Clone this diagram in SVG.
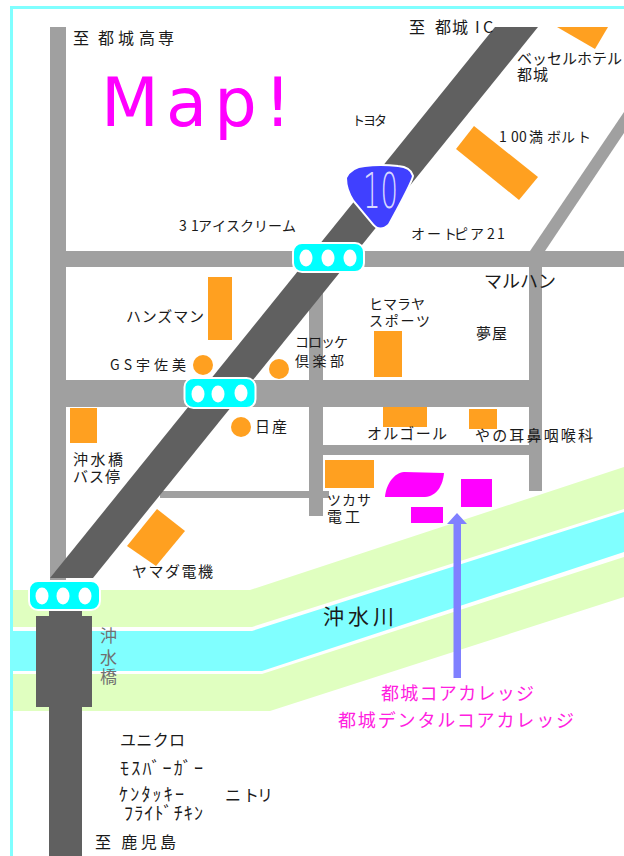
<svg xmlns="http://www.w3.org/2000/svg" width="624" height="856" viewBox="0 0 624 856">
<style>
text{font-family:"Noto Sans CJK JP","DejaVu Sans",sans-serif;font-size:14px;fill:#1a1a1a}
.road{fill:#a0a0a0}
.main{fill:#606060}
.o{fill:#ffa020}
.m{fill:#ff00ff}
.g{fill:#e0ffc0}
.sig{fill:#00ffff;stroke:#fff;stroke-width:2}
.lamp{fill:#fff}
.pink{fill:#ff20e0;font-size:18px}
.hw{font-size:18px}
</style>
<rect width="624" height="856" fill="#fff"/>
<path d="M11.5 856V7.5H624" fill="none" stroke="#80ffff" stroke-width="3"/>
<g id="river">
<path class="g" d="M13 590H250L624 467V509L252 627H13Z"/>
<path fill="#80ffff" d="M13 631H252L624 512V552L262 671H13Z"/>
<path class="g" d="M13 674H262L624 557V597L270 711H13Z"/>
</g>
<g id="roads">
<rect class="road" x="50" y="27" width="16" height="560"/>
<rect class="road" x="66" y="251" width="558" height="16"/>
<rect class="road" x="66" y="380" width="476" height="27"/>
<rect class="road" x="309" y="267" width="14" height="249"/>
<rect class="road" x="529" y="251" width="13" height="240"/>
<rect class="road" x="323" y="445" width="206" height="10"/>
<rect class="road" x="160" y="491" width="169" height="7"/>
<path class="road" d="M624 112V133L545 251H530Z"/>
</g>
<g id="highway">
<path class="main" d="M495 27H538L93 578H50Z"/>
<rect class="main" x="49" y="610" width="33" height="246"/>
<rect class="main" x="36" y="616" width="56" height="91"/>
</g>
<g id="buildings">
<path class="o" d="M557 27H608L595 49Z"/>
<path class="o" d="M474 126L538 177L519 200L456 149Z"/>
<rect class="o" x="208" y="277" width="24" height="63"/>
<circle class="o" cx="203" cy="365" r="10"/>
<circle class="o" cx="279" cy="369" r="10"/>
<circle class="o" cx="241" cy="427" r="10"/>
<rect class="o" x="70" y="408" width="27" height="35"/>
<path class="o" d="M157 509L185 531L156 566L127 546Z"/>
<rect class="o" x="374" y="331" width="28" height="46"/>
<rect class="o" x="383" y="407" width="44" height="20"/>
<rect class="o" x="469" y="409" width="28" height="20"/>
<rect class="o" x="325" y="460" width="49" height="28"/>
</g>
<g id="college">
<path class="m" d="M385 497C386 484 394 473 404 472L444 473C443 485 437 496 425 497Z"/>
<rect class="m" x="411" y="507" width="32" height="16"/>
<rect class="m" x="461" y="479" width="31" height="28"/>
</g>
<g id="signal-1">
<rect class="sig" x="293" y="243" width="71" height="29" rx="9"/>
<ellipse class="lamp" cx="306" cy="258" rx="6.500" ry="8.500"/><ellipse class="lamp" cx="328" cy="258" rx="6.500" ry="8.500"/><ellipse class="lamp" cx="350" cy="258" rx="6.500" ry="8.500"/>
</g>
<g id="signal-2">
<rect class="sig" x="184.500" y="378" width="71" height="30" rx="9"/>
<ellipse class="lamp" cx="198" cy="394" rx="6.500" ry="8.500"/><ellipse class="lamp" cx="218" cy="394" rx="6.500" ry="8.500"/><ellipse class="lamp" cx="241" cy="393" rx="6.500" ry="8.500"/>
</g>
<g id="signal-3">
<rect class="sig" x="29" y="581" width="71" height="29" rx="9"/>
<ellipse class="lamp" cx="42" cy="596" rx="6.500" ry="8.500"/><ellipse class="lamp" cx="63" cy="596" rx="6.500" ry="8.500"/><ellipse class="lamp" cx="85" cy="596" rx="6.500" ry="8.500"/>
</g>
<g id="route-10">
<path d="M347 178Q352 168 365 167Q380 165 398 167Q410 168 412 176Q411 182 388 224Q380 231 374 224L354 200Q347 189 347 178Z" fill="#4040ff" stroke="#fff" stroke-width="4" paint-order="stroke"/>
<text transform="translate(363 208) scale(.55 1)" style="font-family:'DejaVu Sans',sans-serif;font-size:50px;fill:#d8d8ff;font-weight:200">10</text>
</g>
<g id="arrow">
<path fill="#8080ff" d="M457 513L467 524H461V678H453.500V524H447Z"/>
</g>
<g id="labels">
<text x="101" y="126" textLength="190" style="font-family:'DejaVu Sans',sans-serif;font-size:67px;fill:#ff00ff">Map!</text>
<text x="73 89 98 118 139 158" y="44" style="font-size:16px">至 都城高専</text>
<text x="179 191 198 212 226 240 254 268 282" y="231">31アイスクリーム</text>
<text x="409 425 435 452 475 483" y="33" style="font-size:16px">至 都城IC</text>
<text x="517" y="64" textLength="105" style="font-size:15px">ベッセルホテル</text>
<text x="517" y="80" textLength="31" style="font-size:15px">都城</text>
<text x="352" y="125" textLength="35" style="font-size:13px">トヨタ</text>
<text x="499 511 519 529 547 561 577" y="142">100満ボルト</text>
<text x="411 427 443 454 470 487 497" y="239">オートピア21</text>
<text x="484" y="288" textLength="72" style="font-size:18px">マルハン</text>
<text x="126" y="322" textLength="78" style="font-size:15px">ハンズマン</text>
<text x="110" y="370" textLength="76">GS宇佐美</text>
<text x="295" y="347" textLength="53">コロッケ</text>
<text x="295" y="366" textLength="49">倶楽部</text>
<text x="369" y="309" textLength="56">ヒマラヤ</text>
<text x="369" y="326" textLength="61">スポーツ</text>
<text x="476" y="339" textLength="31" style="font-size:15px">夢屋</text>
<text x="255" y="432" textLength="32" style="font-size:15px">日産</text>
<text x="367" y="439" textLength="80" style="font-size:15px">オルゴール</text>
<text x="475" y="441" textLength="118" style="font-size:15px">やの耳鼻咽喉科</text>
<text x="73" y="465" textLength="50" style="font-size:15px">沖水橋</text>
<text x="73" y="482" textLength="47" style="font-size:15px">バス停</text>
<text x="327" y="505" textLength="44" style="font-size:14px">ツカサ</text>
<text x="327" y="522" textLength="33" style="font-size:15px">電工</text>
<text x="132" y="577" textLength="81" style="font-size:15px">ヤマダ電機</text>
<text x="323" y="624" textLength="71" style="font-size:21px">沖水川</text>
<text x="100" y="642" style="font-size:17px;fill:#707070">沖</text>
<text x="100" y="664" style="font-size:17px;fill:#707070">水</text>
<text x="100" y="683" style="font-size:17px;fill:#707070">橋</text>
<text class="pink" x="381" y="700" textLength="153">都城コアカレッジ</text>
<text class="pink" x="338" y="727" textLength="236">都城デンタルコアカレッジ</text>
<text x="120" y="746" textLength="65" style="font-size:16px">ユニクロ</text>
<text class="hw" x="120" y="775" textLength="83">ﾓｽﾊﾞｰｶﾞｰ</text>
<text class="hw" x="119" y="801" textLength="65">ｹﾝﾀｯｷｰ</text>
<text class="hw" x="124" y="820" textLength="79">ﾌﾗｲﾄﾞﾁｷﾝ</text>
<text x="225 243 257" y="801" style="font-size:16px">ニトリ</text>
<text x="95" y="848" textLength="81" style="font-size:16px">至 鹿児島</text>
</g>
</svg>
